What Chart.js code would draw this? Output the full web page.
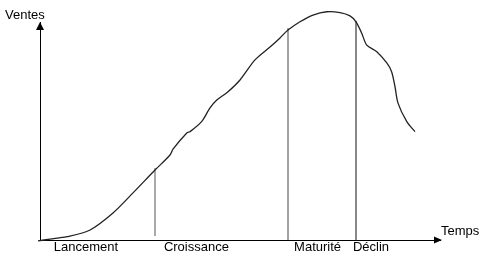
<!DOCTYPE html>
<html>
<head>
<meta charset="utf-8">
<script src="https://cdn.jsdelivr.net/npm/chart.js"></script>
<style>
html,body{margin:0;padding:0;background:#fff;}
#wrap{width:481px;height:255px;position:relative;}
</style>
</head>
<body>
<div id="wrap"><canvas id="c" width="481" height="255"></canvas></div>
<script>
// Product life cycle: time (0-100) vs sales (0-100, peak slightly above axis top)
const curveTime  = [-0.5, 2.5, 6.7, 12.5, 18.25, 23.25, 28.75, 32.5, 33.25, 36.7, 37.5, 40.4, 42.5, 44.2, 47, 50, 53.75, 57.5, 60, 62, 65, 68.25, 71.7, 75, 77.5, 79, 80.4, 81.7, 84.2, 86.7, 87.9, 88.75, 89.5, 91.7, 93.75];
const curveSales = [-0.4, 0.4, 1.5, 4.6, 12.4, 21.6, 32.1, 39.0, 41.7, 49.1, 49.7, 54.3, 60.6, 64.2, 68.0, 73.4, 82.6, 88.5, 92.7, 96.3, 100.1, 103.2, 104.7, 104.3, 102.8, 100.1, 95.0, 89.4, 86.4, 81.2, 77.2, 70.3, 62.8, 54.3, 49.7];
const phaseNames   = ["Lancement", "Croissance", "Maturité", "Déclin"];
const phaseCenters = [11.5, 39.1, 69.4, 82.75];
const boundTime   = [28.75, 62, 79];
const boundBottom = [1.8, 0, 0];
const boundTop    = [33, 97.2, 100.5];
const boundColors = ["#555", "#444", "#111"];
const yAxisTitle = "Ventes";
const xAxisTitle = "Temps";

const FONT = "'Liberation Sans', Arial, sans-serif";

const datasets = [{
  data: curveTime.map((t, i) => ({x: t, y: curveSales[i]})),
  borderColor: "#222",
  borderWidth: 1.3,
  pointRadius: 0,
  tension: 0.3,
  clip: false
}];
boundTime.forEach((t, i) => {
  datasets.push({
    data: [{x: t, y: boundBottom[i]}, {x: t, y: boundTop[i]}],
    borderColor: boundColors[i],
    borderWidth: 1,
    pointRadius: 0,
    clip: false
  });
});

const axisDecor = {
  id: "axisDecor",
  afterDraw(chart) {
    const ctx = chart.ctx;
    const xs = chart.scales.x, ys = chart.scales.y;
    const x0 = Math.round(xs.left), yTop = ys.top, yb = Math.round(ys.bottom), xr = xs.right;
    ctx.save();
    ctx.fillStyle = "#000";
    // y arrow
    ctx.beginPath();
    ctx.moveTo(x0, yTop);
    ctx.lineTo(x0 - 4, yTop + 8);
    ctx.lineTo(x0 + 4, yTop + 8);
    ctx.closePath();
    ctx.fill();
    // x arrow
    ctx.beginPath();
    ctx.moveTo(xr + 2, yb);
    ctx.lineTo(xr - 6, yb - 3.5);
    ctx.lineTo(xr - 6, yb + 3.5);
    ctx.closePath();
    ctx.fill();
    ctx.font = "13px " + FONT;
    ctx.textBaseline = "alphabetic";
    ctx.textAlign = "left";
    ctx.fillText(yAxisTitle, 5, 19);
    ctx.fillText(xAxisTitle, xr + 1, 235);
    ctx.restore();
  }
};

new Chart(document.getElementById("c"), {
  type: "line",
  data: {datasets},
  options: {
    responsive: false,
    animation: false,
    events: [],
    layout: {padding: {left: 40, top: 22, right: 41, bottom: 0}},
    plugins: {legend: {display: false}, tooltip: {enabled: false}, title: {display: false}},
    scales: {
      x: {
        type: "linear", min: 0, max: 100,
        grid: {display: false, drawTicks: false},
        border: {display: true, color: "#000", width: 1},
        afterBuildTicks: s => { s.ticks = phaseCenters.map(v => ({value: v})); },
        afterFit: s => { s.height = 15; },
        ticks: {
          autoSkip: false, maxRotation: 0, minRotation: 0, padding: 0,
          color: "#000", font: {family: FONT, size: 13},
          callback: (v, i) => phaseNames[i]
        }
      },
      y: {
        type: "linear", min: 0, max: 100,
        grid: {display: false, drawTicks: false},
        border: {display: true, color: "#000", width: 1},
        afterFit: s => { s.width = 0; },
        ticks: {display: false}
      }
    }
  },
  plugins: [axisDecor]
});
</script>
</body>
</html>
